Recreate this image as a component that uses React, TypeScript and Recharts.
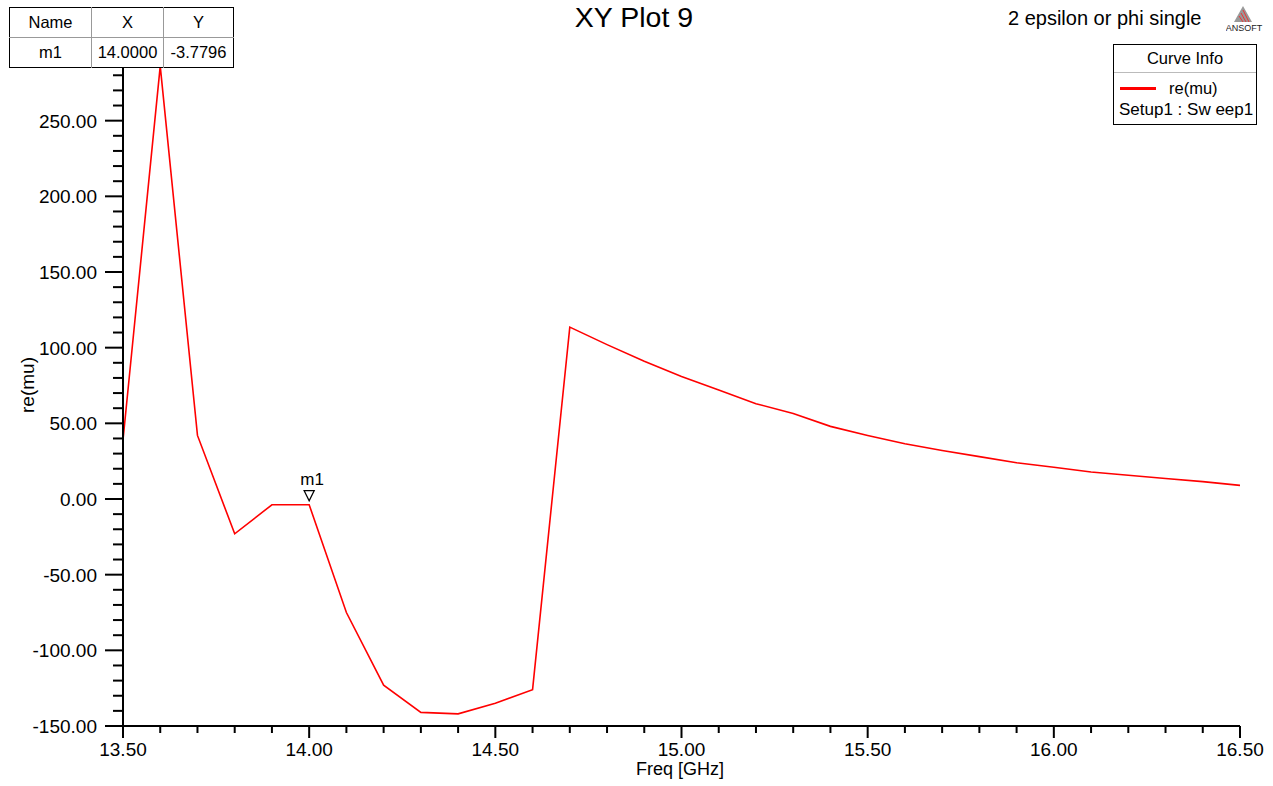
import { LineChart, Line, XAxis, YAxis, ReferenceDot } from 'recharts'

const freqs = [
    13.5, 13.6, 13.7, 13.8, 13.9, 14.0, 14.1, 14.2, 14.3, 14.4, 14.5,
    14.6, 14.7, 14.8, 14.9, 15.0, 15.1, 15.2, 15.3, 15.4, 15.5, 15.6,
    15.7, 15.8, 15.9, 16.0, 16.1, 16.2, 16.3, 16.4, 16.5
]
const reMu = [
    39, 286, 42, -23, -3.8, -3.7796, -75, -123, -141, -142, -135,
    -126, 113.6, 102, 91, 81, 72, 63, 56.5, 48, 42, 36.5,
    32, 28, 24, 21, 17.8, 15.7, 13.5, 11.5, 9
]
const xTicks = [
    13.5, 13.6, 13.7, 13.8, 13.9, 14.0, 14.1, 14.2, 14.3, 14.4, 14.5,
    14.6, 14.7, 14.8, 14.9, 15.0, 15.1, 15.2, 15.3, 15.4, 15.5, 15.6,
    15.7, 15.8, 15.9, 16.0, 16.1, 16.2, 16.3, 16.4, 16.5
]
const yTicks = [
    -150, -140, -130, -120, -110, -100, -90, -80, -70, -60, -50, -40, -30, -20, -10,
    0, 10, 20, 30, 40, 50, 60, 70, 80, 90, 100, 110, 120, 130, 140, 150,
    160, 170, 180, 190, 200, 210, 220, 230, 240, 250, 260, 270, 280, 290, 300
]
// the 300 label sits under the marker table, so only these get text
const yLabels = [-150, -100, -50, 0, 50, 100, 150, 200, 250]
const marker = { name: 'm1', x: 14.0, y: -3.7796 }

const data = freqs.map((f, i) => ({ freq: f, re: reMu[i] }))

const FONT = '"Liberation Sans", Arial, sans-serif'

function XTick(props: any) {
    const { x, y, payload } = props
    const major = Math.round(payload.value * 10) % 5 === 0
    return (
        <g>
            <line x1={x} x2={x} y1={y} y2={y + (major ? 12 : 7)} stroke="#000" strokeWidth={2} />
            {major && (
                <text x={x} y={y + 30} textAnchor="middle" fontSize={19} fontFamily={FONT} fill="#000">
                    {payload.value.toFixed(2)}
                </text>
            )}
        </g>
    )
}

function YTick(props: any) {
    const { x, y, payload } = props
    const major = Math.round(payload.value) % 50 === 0
    return (
        <g>
            <line x1={x - (major ? 18 : 10)} x2={x} y1={y} y2={y} stroke="#000" strokeWidth={2} />
            {yLabels.includes(payload.value) && (
                <text x={x - 26} y={y + 7} textAnchor="end" fontSize={19} fontFamily={FONT} fill="#000">
                    {payload.value.toFixed(2)}
                </text>
            )}
        </g>
    )
}

function MarkerShape(props: any) {
    const { cx, cy } = props
    return (
        <g>
            <polygon
                points={`${cx - 5},${cy - 14} ${cx + 5},${cy - 14} ${cx},${cy - 4}`}
                fill="#fff"
                stroke="#000"
                strokeWidth={1.3}
            />
            <text x={cx + 3} y={cy - 20} textAnchor="middle" fontSize={17} fontFamily={FONT} fill="#000">
                {marker.name}
            </text>
        </g>
    )
}

const cell: React.CSSProperties = {
    borderRight: '1px solid #999',
    borderBottom: '1px solid #999',
    textAlign: 'center',
    padding: 0,
    height: 29,
    fontSize: 16.5
}

export default function App() {
    return (
        <div style={{ position: 'absolute', left: 0, top: 0, width: 1273, height: 786, background: '#fff', fontFamily: FONT }}>
            <LineChart width={1273} height={786} data={data} margin={{ top: 45, right: 33, bottom: 0, left: 0 }}>
                <XAxis
                    dataKey="freq"
                    type="number"
                    domain={[13.5, 16.5]}
                    ticks={xTicks}
                    interval={0}
                    height={60}
                    tickSize={0}
                    tickMargin={0}
                    tick={<XTick />}
                    tickLine={false}
                    axisLine={{ stroke: '#000', strokeWidth: 2 }}
                    allowDataOverflow
                />
                <XAxis
                    xAxisId="top"
                    dataKey="freq"
                    type="number"
                    domain={[13.5, 16.5]}
                    orientation="top"
                    height={0}
                    tick={false}
                    tickLine={false}
                    axisLine={{ stroke: '#000', strokeWidth: 1 }}
                />
                <YAxis
                    type="number"
                    domain={[-150, 300]}
                    ticks={yTicks}
                    interval={0}
                    width={123}
                    tickSize={0}
                    tickMargin={0}
                    tick={<YTick />}
                    tickLine={false}
                    axisLine={{ stroke: '#000', strokeWidth: 2 }}
                    allowDataOverflow
                />
                <YAxis
                    yAxisId="right"
                    orientation="right"
                    type="number"
                    domain={[-150, 300]}
                    width={0}
                    tick={false}
                    tickLine={false}
                    axisLine={{ stroke: '#000', strokeWidth: 1 }}
                />
                <Line
                    type="linear"
                    dataKey="re"
                    stroke="#ff0000"
                    strokeWidth={1.6}
                    dot={false}
                    isAnimationActive={false}
                />
                <ReferenceDot x={marker.x} y={marker.y} shape={<MarkerShape />} />
            </LineChart>

            {/* title and notes */}
            <div style={{ position: 'absolute', left: 434, width: 400, top: 1, textAlign: 'center', fontSize: 28.5 }}>XY Plot 9</div>
            <div style={{ position: 'absolute', left: 1008, top: 7, fontSize: 20, whiteSpace: 'nowrap' }}>2 epsilon or phi single</div>
            <div style={{ position: 'absolute', left: 580, width: 200, top: 759, textAlign: 'center', fontSize: 18 }}>Freq [GHz]</div>
            <div
                style={{
                    position: 'absolute',
                    left: 28,
                    top: 385,
                    fontSize: 19,
                    transform: 'translate(-50%, -50%) rotate(-90deg)',
                    whiteSpace: 'nowrap'
                }}
            >
                re(mu)
            </div>

            {/* ansoft logo */}
            <svg style={{ position: 'absolute', left: 1226, top: 4 }} width={40} height={30}>
                <polygon points="17,2 8,18 26,18" fill="#999" />
                <line x1={13} y1={12} x2={17} y2={18} stroke="#e33" strokeWidth={1} />
                <line x1={15} y1={9} x2={20} y2={18} stroke="#e33" strokeWidth={1} />
                <line x1={17} y1={6} x2={23} y2={18} stroke="#e33" strokeWidth={1} />
                <text x={18} y={27} textAnchor="middle" fontSize={9} fontFamily={FONT} fill="#222">ANSOFT</text>
            </svg>

            {/* marker table */}
            <table
                style={{
                    position: 'absolute',
                    left: 9,
                    top: 7,
                    borderCollapse: 'collapse',
                    border: '1px solid #000',
                    background: '#fff',
                    fontFamily: FONT
                }}
            >
                <tbody>
                    <tr>
                        <td style={{ ...cell, width: 81 }}>Name</td>
                        <td style={{ ...cell, width: 71 }}>X</td>
                        <td style={{ ...cell, width: 69, borderRight: 'none' }}>Y</td>
                    </tr>
                    <tr>
                        <td style={{ ...cell, borderBottom: 'none' }}>{marker.name}</td>
                        <td style={{ ...cell, borderBottom: 'none' }}>{marker.x.toFixed(4)}</td>
                        <td style={{ ...cell, borderBottom: 'none', borderRight: 'none' }}>{marker.y.toFixed(4)}</td>
                    </tr>
                </tbody>
            </table>

            {/* curve info */}
            <div
                style={{
                    position: 'absolute',
                    left: 1113,
                    top: 44,
                    width: 142,
                    height: 79,
                    border: '1px solid #000',
                    background: '#fff',
                    fontSize: 16.5
                }}
            >
                <div style={{ height: 27, lineHeight: '27px', textAlign: 'center', borderBottom: '1px solid #bbb' }}>Curve Info</div>
                <div style={{ position: 'absolute', left: 6, top: 42, width: 36, height: 3, background: '#ff0000' }} />
                <div style={{ position: 'absolute', left: 55, top: 34, lineHeight: '18px' }}>re(mu)</div>
                <div style={{ position: 'absolute', left: 5, top: 56, lineHeight: '18px', whiteSpace: 'nowrap', fontSize: 17 }}>Setup1 : Sw eep1</div>
            </div>
        </div>
    )
}
